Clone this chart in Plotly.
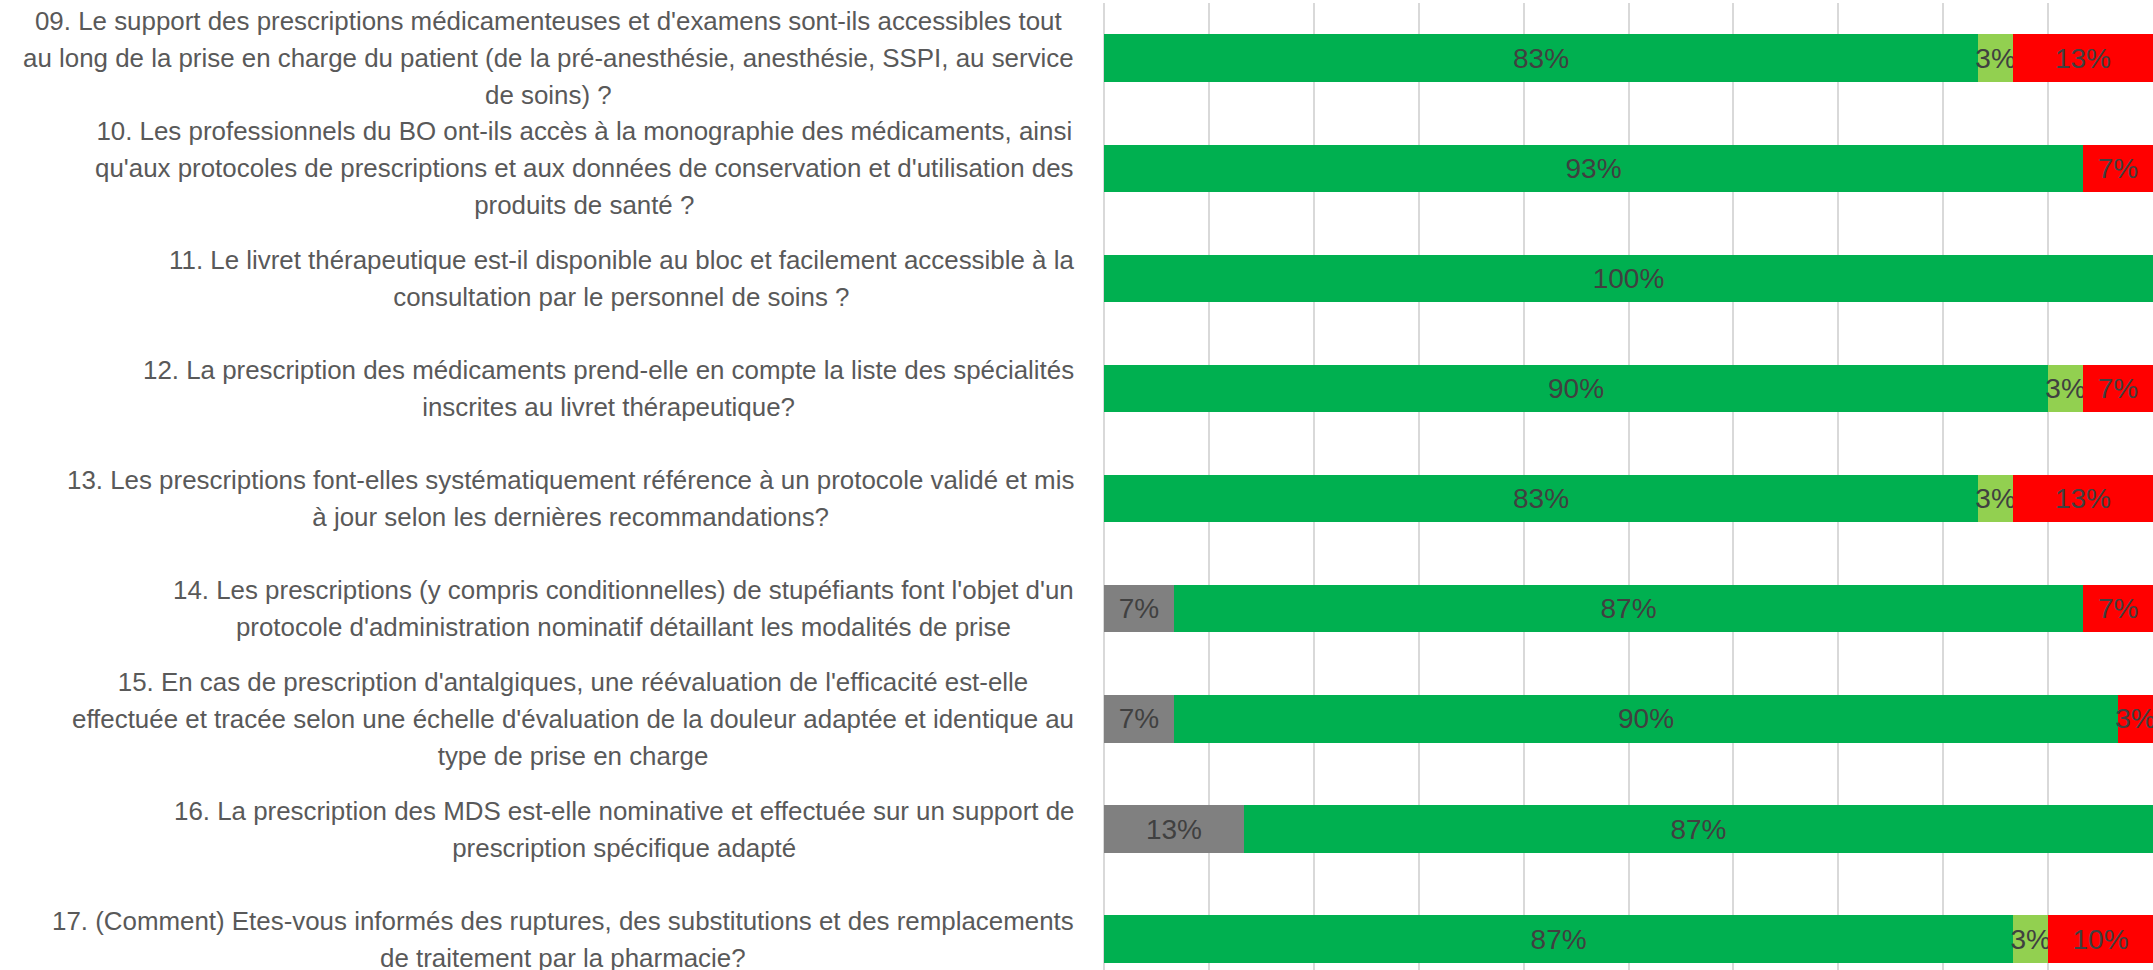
import plotly.graph_objects as go

questions = ["09", "10", "11", "12", "13", "14", "15", "16", "17"]
question_lines = [
    ["09. Le support des prescriptions médicamenteuses et d'examens sont-ils accessibles tout",
     "au long de la prise en charge du patient (de la pré-anesthésie, anesthésie, SSPI, au service",
     "de soins) ?"],
    ["10. Les professionnels du BO ont-ils accès à la monographie des médicaments, ainsi",
     "qu'aux protocoles de prescriptions et aux données de conservation et d'utilisation des",
     "produits de santé ?"],
    ["11. Le livret thérapeutique est-il disponible au bloc et facilement accessible à la",
     "consultation par le personnel de soins ?"],
    ["12. La prescription des médicaments prend-elle en compte la liste des spécialités",
     "inscrites au livret thérapeutique?"],
    ["13. Les prescriptions font-elles systématiquement référence à un protocole validé et mis",
     "à jour selon les dernières recommandations?"],
    ["14. Les prescriptions (y compris conditionnelles) de stupéfiants font l'objet d'un",
     "protocole d'administration nominatif détaillant les modalités de prise"],
    ["15. En cas de prescription d'antalgiques, une réévaluation de l'efficacité est-elle",
     "effectuée et tracée selon une échelle d'évaluation de la douleur adaptée et identique au",
     "type de prise en charge"],
    ["16. La prescription des MDS est-elle nominative et effectuée sur un support de",
     "prescription spécifique adapté"],
    ["17. (Comment) Etes-vous informés des ruptures, des substitutions et des remplacements",
     "de traitement par la pharmacie?"],
]

series_names = ["Non applicable", "Oui", "Partiellement", "Non"]
gray_vals = [0, 0, 0, 0, 0, 6.67, 6.67, 13.33, 0]
green_vals = [83.33, 93.33, 100, 90, 83.33, 86.67, 90, 86.67, 86.67]
lightgreen_vals = [3.33, 0, 0, 3.33, 3.33, 0, 0, 0, 3.33]
red_vals = [13.33, 6.67, 0, 6.67, 13.33, 6.67, 3.33, 0, 10]

series_vals = [gray_vals, green_vals, lightgreen_vals, red_vals]
series_colors = ["#808080", "#00B050", "#92D050", "#FF0000"]

FONT = "Liberation Sans"
LABEL_SIZE = 25.9
LINE_GAP = 37
BAR_TEXT_SIZE = 28

fig = go.Figure()
for name, vals, col in zip(series_names, series_vals, series_colors):
    fig.add_trace(go.Bar(
        y=questions, x=vals, name=name, orientation="h",
        marker=dict(color=col, line=dict(width=0)),
        width=0.43,
        text=[f"{round(v)}%" if v > 0 else "" for v in vals],
        textposition="inside", insidetextanchor="middle", textangle=0,
        textfont=dict(family=FONT, size=BAR_TEXT_SIZE, color="#404040"),
        hoverinfo="skip",
    ))

for i, lines in enumerate(question_lines):
    txt = "<br>".join(f"<span style='font-size:{LABEL_SIZE}px'>{l}</span>" for l in lines)
    fig.add_annotation(
        x=0, xref="paper", y=i, yref="y", xanchor="right", yanchor="middle",
        xshift=-28, align="center", showarrow=False, text=txt,
        font=dict(family=FONT, size=LINE_GAP / 1.3, color="#595959"),
    )

fig.update_layout(
    width=2153, height=970,
    margin=dict(l=1104, r=0, t=3, b=0, pad=0),
    barmode="stack", showlegend=False,
    plot_bgcolor="white", paper_bgcolor="white",
    uniformtext=dict(minsize=BAR_TEXT_SIZE, mode="show"),
    font=dict(family=FONT),
)
fig.update_xaxes(range=[0, 100], dtick=10, showgrid=True, gridcolor="#D9D9D9", gridwidth=2,
                 zeroline=True, zerolinecolor="#D9D9D9", zerolinewidth=2,
                 showticklabels=False, showline=False, fixedrange=True)
fig.update_yaxes(type="category", categoryorder="array", categoryarray=questions,
                 range=[8.28, -0.5], showticklabels=False, showgrid=False,
                 zeroline=False, showline=False, fixedrange=True)

fig.write_html("out.html", config={"displayModeBar": False},
               post_script="document.body.style.margin='0';document.body.style.overflow='hidden';")
